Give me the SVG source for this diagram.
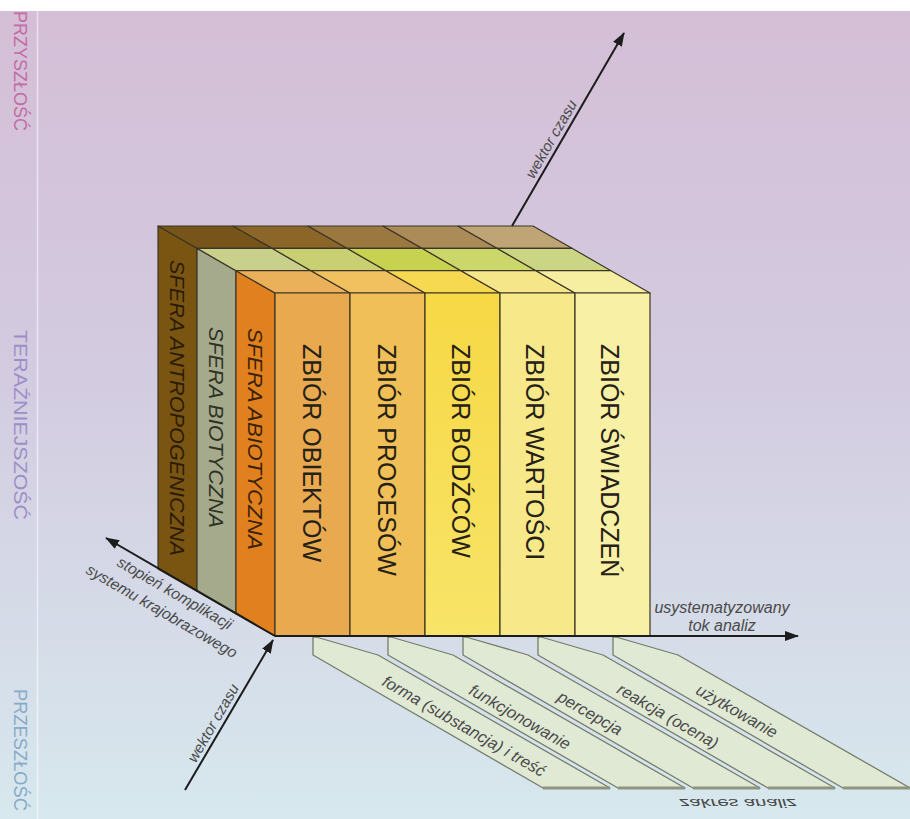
<svg xmlns="http://www.w3.org/2000/svg" width="910" height="819" viewBox="0 0 910 819">
<defs>
<linearGradient id="bg" x1="0" y1="0" x2="0" y2="1">
<stop offset="0" stop-color="#d4bed6"/>
<stop offset="0.45" stop-color="#d3cbe0"/>
<stop offset="1" stop-color="#d7e8ee"/>
</linearGradient>
<linearGradient id="g3" x1="0" y1="0" x2="0" y2="1">
<stop offset="0" stop-color="#f7d845"/>
<stop offset="1" stop-color="#f8e468"/>
</linearGradient>
<marker id="ah" viewBox="0 0 14 10" refX="13" refY="5" markerWidth="14" markerHeight="10" markerUnits="userSpaceOnUse" orient="auto">
<path d="M0,0 L14,5 L0,10 z" fill="#1c1c1c"/>
</marker>
</defs>
<style>
.edge{stroke:#3d3526;stroke-width:1.2;stroke-linejoin:round}
.col{font-family:"Liberation Sans",Arial,sans-serif;font-size:25px;fill:#252117}
.sph{font-family:"Liberation Sans",Arial,sans-serif;font-size:21px;font-style:italic}
.lbl{font-family:"Liberation Sans",Arial,sans-serif;font-style:italic;fill:#4a4a4a}
.time{font-family:"Liberation Sans",Arial,sans-serif;font-size:19px}
.strip{fill:#e0e9d4;stroke:#767d6c;stroke-width:1.3;stroke-linejoin:round}
.stb{stroke:#8d957f;stroke-width:3}
.ax{stroke:#1c1c1c;stroke-width:2;fill:none}
</style>
<rect width="910" height="819" fill="url(#bg)"/>
<rect width="910" height="11" fill="#ffffff"/>
<line x1="37.5" y1="11" x2="37.5" y2="819" stroke="#ffffff" stroke-opacity="0.55" stroke-width="1.5"/>

<g id="time-labels">
<text class="time" fill="#c46aa6" text-anchor="middle" textLength="120" lengthAdjust="spacingAndGlyphs" transform="translate(21,71) rotate(90)" dy="0.35em">PRZYSZŁOŚĆ</text>
<text class="time" fill="#9c8fc7" text-anchor="middle" textLength="190" lengthAdjust="spacingAndGlyphs" transform="translate(21,425) rotate(90)" dy="0.35em">TERAŹNIEJSZOŚĆ</text>
<text class="time" fill="#86abc8" text-anchor="middle" textLength="122" lengthAdjust="spacingAndGlyphs" transform="translate(21,750) rotate(90)" dy="0.35em">PRZESZŁOŚĆ</text>
</g>

<g id="strips">
<g id="strip-forma">
<polygon class="strip" points="313,637 313,655 543,788 610,788 378,655 316,637"/>
<line class="stb" x1="543" y1="788" x2="610" y2="788"/>
<text class="lbl" font-size="16.5" text-anchor="middle" dy="0.35em" transform="translate(464,726) rotate(30)">forma (substancja) i treść</text>
</g>
<g id="strip-funkcjonowanie">
<polygon class="strip" points="388,637 388,655 618,788 685,788 453,655 391,637"/>
<line class="stb" x1="618" y1="788" x2="685" y2="788"/>
<text class="lbl" font-size="16.5" text-anchor="middle" dy="0.35em" transform="translate(520,717) rotate(30)">funkcjonowanie</text>
</g>
<g id="strip-percepcja">
<polygon class="strip" points="463,637 463,655 693,788 760,788 528,655 466,637"/>
<line class="stb" x1="693" y1="788" x2="760" y2="788"/>
<text class="lbl" font-size="16.5" text-anchor="middle" dy="0.35em" transform="translate(590,713) rotate(30)">percepcja</text>
</g>
<g id="strip-reakcja">
<polygon class="strip" points="538,637 538,655 768,788 835,788 603,655 541,637"/>
<line class="stb" x1="768" y1="788" x2="835" y2="788"/>
<text class="lbl" font-size="16.5" text-anchor="middle" dy="0.35em" transform="translate(668,716) rotate(30)">reakcja (ocena)</text>
</g>
<g id="strip-uzytkowanie">
<polygon class="strip" points="613,637 613,655 843,788 910,788 678,655 616,637"/>
<line class="stb" x1="843" y1="788" x2="910" y2="788"/>
<text class="lbl" font-size="16.5" text-anchor="middle" dy="0.35em" transform="translate(737,711) rotate(30)">użytkowanie</text>
</g>
<text class="lbl" font-size="17" text-anchor="middle" textLength="117" lengthAdjust="spacingAndGlyphs" dy="0.36em" transform="translate(738,804) scale(1,-0.8)">zakres analiz</text>
</g>

<g id="sfera-antropogeniczna">
<polygon class="edge" fill="#7a5512" points="158,226 197,248.3 197,591.3 158,569"/>
<polygon class="edge" fill="#77541a" points="197,248.3 272,248.3 233,226 158,226"/>
<polygon class="edge" fill="#8b6628" points="272,248.3 347,248.3 308,226 233,226"/>
<polygon class="edge" fill="#9a783f" points="347,248.3 422,248.3 383,226 308,226"/>
<polygon class="edge" fill="#ab8b58" points="422,248.3 497,248.3 458,226 383,226"/>
<polygon class="edge" fill="#bfa476" points="497,248.3 572,248.3 533,226 458,226"/>
<text class="sph" fill="#2a1c05" textLength="296" lengthAdjust="spacingAndGlyphs" dy="0.35em" transform="translate(177.5,260) rotate(90)">SFERA  ANTROPOGENICZNA</text>
</g>

<g id="sfera-biotyczna">
<polygon class="edge" fill="#a5aa8c" points="197,248.3 236,270.7 236,613.7 197,591.3"/>
<polygon class="edge" fill="#c9d08c" points="236,270.7 311,270.7 272,248.3 197,248.3"/>
<polygon class="edge" fill="#c8d073" points="311,270.7 386,270.7 347,248.3 272,248.3"/>
<polygon class="edge" fill="#c6d250" points="386,270.7 461,270.7 422,248.3 347,248.3"/>
<polygon class="edge" fill="#ccd76b" points="461,270.7 536,270.7 497,248.3 422,248.3"/>
<polygon class="edge" fill="#cbd684" points="536,270.7 611,270.7 572,248.3 497,248.3"/>
<text class="sph" fill="#2f3325" textLength="201" lengthAdjust="spacingAndGlyphs" dy="0.35em" transform="translate(216.5,327) rotate(90)">SFERA  BIOTYCZNA</text>
</g>

<g id="sfera-abiotyczna">
<polygon class="edge" fill="#e0801f" points="236,270.7 275,293 275,636 236,613.7"/>
<polygon class="edge" fill="#ebb05a" points="275,293 350,293 311,270.7 236,270.7"/>
<polygon class="edge" fill="#f0c15e" points="350,293 425,293 386,270.7 311,270.7"/>
<polygon class="edge" fill="#f6d950" points="425,293 500,293 461,270.7 386,270.7"/>
<polygon class="edge" fill="#f5e68a" points="500,293 575,293 536,270.7 461,270.7"/>
<polygon class="edge" fill="#f6eea0" points="575,293 650,293 611,270.7 536,270.7"/>
<text class="sph" fill="#3b2204" textLength="222" lengthAdjust="spacingAndGlyphs" dy="0.35em" transform="translate(255,328) rotate(90)">SFERA ABIOTYCZNA</text>
</g>

<g id="zbior-obiektow">
<rect class="edge" x="275" y="293" width="75" height="343" fill="#e9a94f"/>
<text class="col" dy="0.35em" transform="translate(311.5,344) rotate(90)">ZBIÓR OBIEKTÓW</text>
</g>
<g id="zbior-procesow">
<rect class="edge" x="350" y="293" width="75" height="343" fill="#f0bf57"/>
<text class="col" dy="0.35em" transform="translate(386.5,344) rotate(90)">ZBIÓR PROCESÓW</text>
</g>
<g id="zbior-bodzcow">
<rect class="edge" x="425" y="293" width="75" height="343" fill="url(#g3)"/>
<text class="col" dy="0.35em" transform="translate(461,344) rotate(90)">ZBIÓR BODŹCÓW</text>
</g>
<g id="zbior-wartosci">
<rect class="edge" x="500" y="293" width="75" height="343" fill="#f7e98a"/>
<text class="col" dy="0.35em" transform="translate(535,344) rotate(90)">ZBIÓR WARTOŚCI</text>
</g>
<g id="zbior-swiadczen">
<rect class="edge" x="575" y="293" width="75" height="343" fill="#f8f0a4"/>
<text class="col" dy="0.35em" transform="translate(610,344) rotate(90)">ZBIÓR ŚWIADCZEŃ</text>
</g>

<g id="connectors">
<line class="ax" x1="512" y1="226" x2="624" y2="33" marker-end="url(#ah)"/>
<line class="ax" x1="275" y1="636" x2="798" y2="636" marker-end="url(#ah)"/>
<line class="ax" x1="275" y1="636" x2="106" y2="538" marker-end="url(#ah)"/>
<line class="ax" x1="185" y1="790" x2="273" y2="640" marker-end="url(#ah)"/>
</g>

<g id="axis-labels">
<text class="lbl" font-size="15" text-anchor="middle" dy="0.35em" transform="translate(551,139) rotate(-60)">wektor czasu</text>
<text class="lbl" font-size="15" text-anchor="middle" dy="0.35em" transform="translate(213,723) rotate(-60)">wektor czasu</text>
<text class="lbl" font-size="15.5" text-anchor="middle" dy="0.35em" transform="translate(175,593) rotate(30)">stopień komplikacji</text>
<text class="lbl" font-size="15.5" text-anchor="middle" dy="0.35em" transform="translate(162,611) rotate(30)">systemu krajobrazowego</text>
<text class="lbl" font-size="16" text-anchor="middle" x="722" y="613">usystematyzowany</text>
<text class="lbl" font-size="16" text-anchor="middle" x="722" y="631">tok analiz</text>
</g>
</svg>
